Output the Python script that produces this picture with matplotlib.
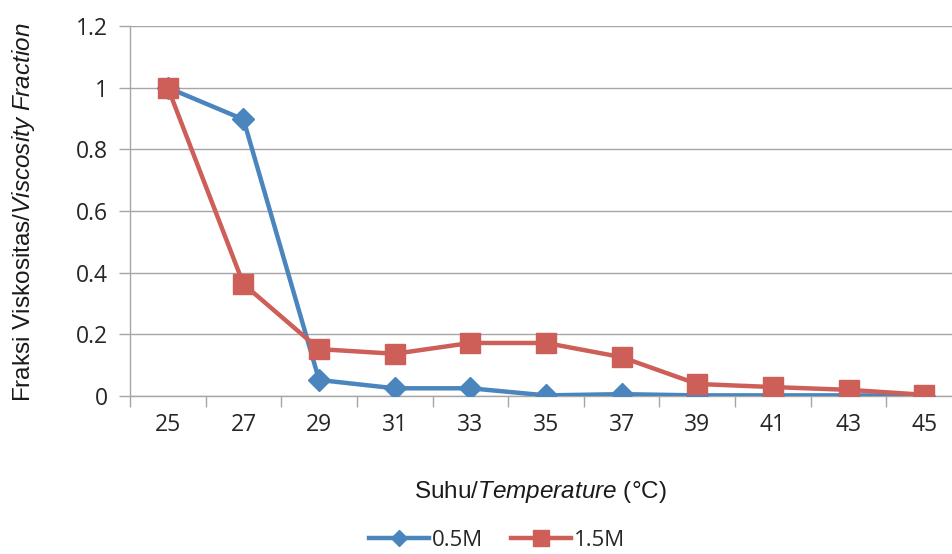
import matplotlib
matplotlib.use("Agg")
import matplotlib.pyplot as plt
import numpy as np

# data
temperature = [25, 27, 29, 31, 33, 35, 37, 39, 41, 43, 45]
frac_05M = [1.0, 0.897, 0.052, 0.025, 0.025, 0.002, 0.006, 0.002, 0.002, 0.002, 0.001]
frac_15M = [1.0, 0.363, 0.152, 0.137, 0.172, 0.172, 0.126, 0.039, 0.029, 0.020, 0.004]
y_ticks = [0, 0.2, 0.4, 0.6, 0.8, 1.0, 1.2]
y_tick_labels = ["0", "0.2", "0.4", "0.6", "0.8", "1", "1.2"]

plt.rcParams["font.family"] = ["Liberation Sans", "DejaVu Sans"]
plt.rcParams["mathtext.fontset"] = "custom"
plt.rcParams["mathtext.rm"] = "Liberation Sans"
plt.rcParams["mathtext.it"] = "Liberation Sans:italic"

BLUE = "#4A85BD"
RED = "#CD5E58"
GRID = "#A6A6A6"

fig = plt.figure(figsize=(9.52, 5.54), dpi=100)
# axes slightly wider than the figure so the last category sits like the original
ax = fig.add_axes([130 / 952, 1 - 396 / 554, 832 / 952, 370 / 554])

ax.plot(temperature, frac_05M, color=BLUE, lw=3.2, marker="D", ms=11,
        label="0.5M", solid_joinstyle="round", zorder=3)
ax.plot(temperature, frac_15M, color=RED, lw=3.2, marker="s", ms=15,
        label="1.5M", solid_joinstyle="round", zorder=4)

ax.set_xlim(24, 46)
ax.set_ylim(0, 1.2)
ax.set_xticks(temperature)
ax.set_xticks(np.arange(24, 47, 2), minor=True)
ax.tick_params(axis="x", which="major", length=0, pad=12, labelsize=16.5)
ax.tick_params(axis="x", which="minor", length=8, color=GRID, width=1)
ax.set_yticks(y_ticks)
ax.set_yticklabels(y_tick_labels)
ax.tick_params(axis="y", length=8, color=GRID, width=1, pad=8, labelsize=16.5)
for lab in ax.get_xticklabels() + ax.get_yticklabels():
    lab.set_family(["Open Sans", "DejaVu Sans"])
    lab.set_color("#262626")

ax.grid(axis="y", color=GRID, lw=1)
ax.set_axisbelow(True)
for side in ["top", "right"]:
    ax.spines[side].set_visible(False)
for side in ["left", "bottom"]:
    ax.spines[side].set_color(GRID)
    ax.spines[side].set_linewidth(1)

fig.text(540 / 952, 1 - 492 / 554, r"Suhu/$\it{Temperature}$ (°C)",
         ha="center", va="center", fontsize=17.5, color="#1a1a1a")
fig.text(24 / 952, 1 - 212 / 554, r"Fraksi Viskositas/$\it{Viscosity\ Fraction}$",
         ha="center", va="center", rotation=90, fontsize=17.5, color="#1a1a1a")

leg = fig.legend(loc="center", bbox_to_anchor=(497 / 952, 1 - 540 / 554), ncol=2,
                 frameon=False, fontsize=16, handlelength=2.7, columnspacing=1.3,
                 handletextpad=0.1, markerscale=0.75, borderpad=0.2)
for t in leg.get_texts():
    t.set_family(["Open Sans", "DejaVu Sans"])
    t.set_color("#262626")

fig.savefig("out.png", dpi=100)
